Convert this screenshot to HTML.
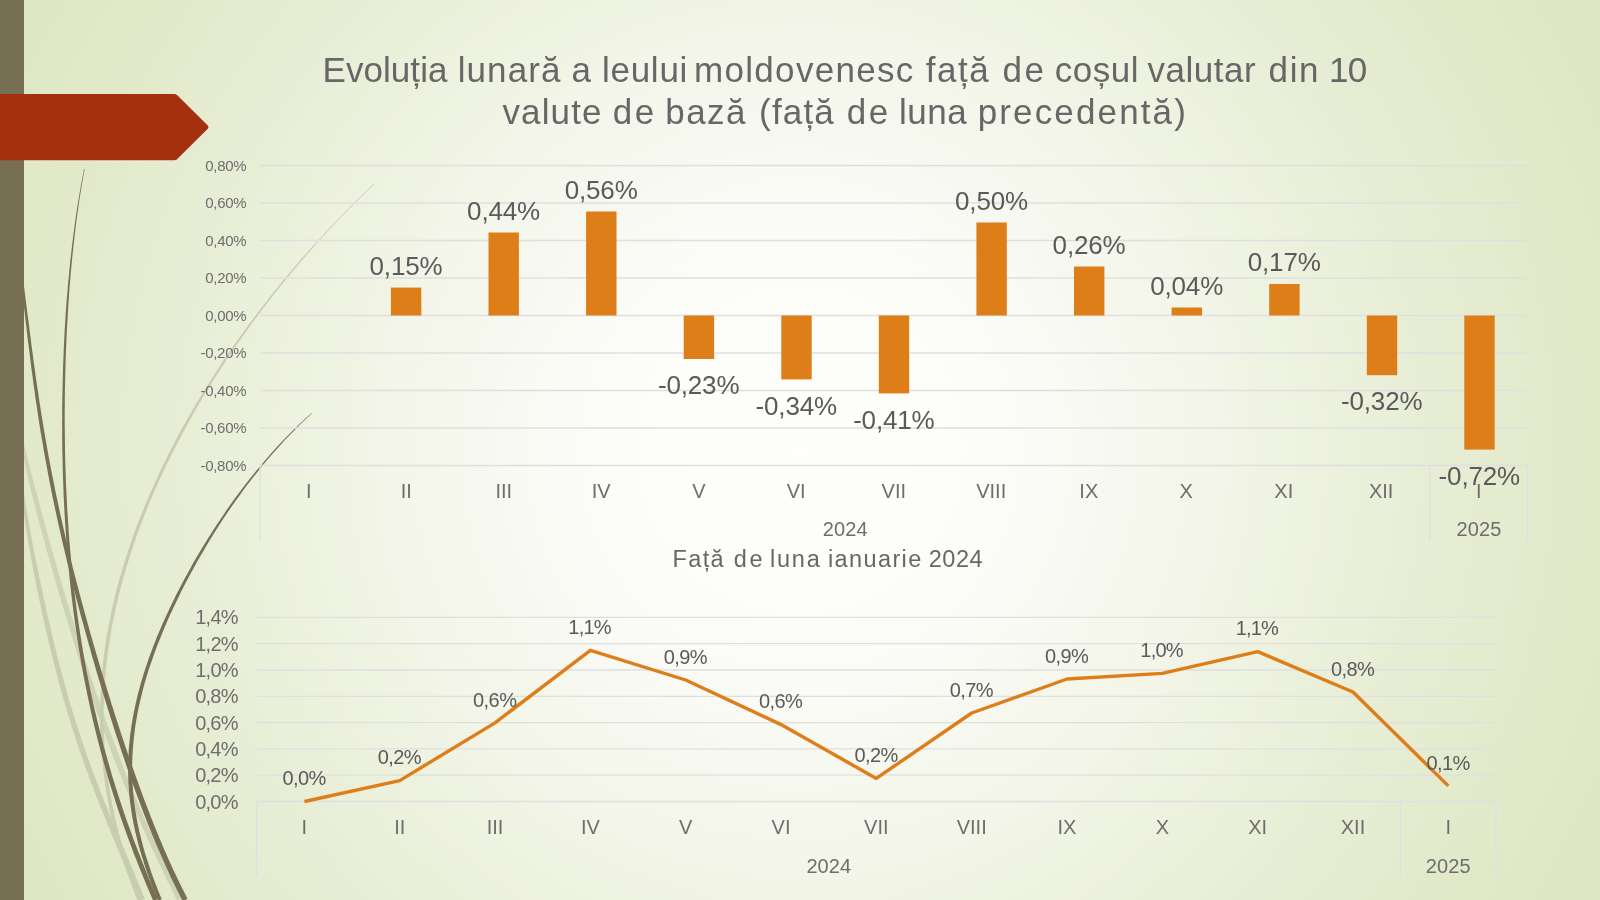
<!DOCTYPE html>
<html lang="ro"><head><meta charset="utf-8"><title>Evoluția lunară a leului moldovenesc</title>
<style>html,body{margin:0;padding:0;width:1600px;height:900px;overflow:hidden;background:#E4ECCE;font-family:"Liberation Sans",sans-serif;}svg{display:block}g.t{will-change:opacity}</style>
</head><body>
<svg width="1600" height="900" viewBox="0 0 1600 900">
<defs>
<radialGradient id="bg" gradientUnits="userSpaceOnUse" cx="800" cy="450" r="918">
<stop offset="0" stop-color="#FEFEFC"/>
<stop offset="0.153" stop-color="#FDFDFA"/>
<stop offset="0.267" stop-color="#FAFBF6"/>
<stop offset="0.462" stop-color="#F2F5E7"/>
<stop offset="0.671" stop-color="#E8EED6"/>
<stop offset="0.858" stop-color="#E1E9C9"/>
<stop offset="0.975" stop-color="#DDE7C4"/>
<stop offset="1" stop-color="#DDE7C3"/>
</radialGradient>
</defs>
<rect width="1600" height="900" fill="url(#bg)"/>
<path d="M18.7 470.1 L19.1 474.1 L19.5 478.2 L19.9 482.2 L20.3 486.2 L20.7 490.3 L21.2 494.3 L21.7 498.3 L22.2 502.4 L22.8 506.4 L23.3 510.4 L23.9 514.5 L24.5 518.5 L25.1 522.5 L25.7 526.6 L26.4 530.6 L27.0 534.6 L27.7 538.7 L28.4 542.7 L29.1 546.7 L29.8 550.8 L30.5 554.8 L31.2 558.8 L31.9 562.8 L32.7 566.9 L33.5 570.9 L34.3 574.9 L35.0 579.0 L35.8 583.0 L36.6 587.0 L37.5 591.0 L38.3 595.1 L39.1 599.1 L40.0 603.1 L40.8 607.1 L41.7 611.2 L42.6 615.2 L43.5 619.2 L44.4 623.3 L45.3 627.3 L46.2 631.3 L47.1 635.3 L48.1 639.4 L49.0 643.4 L50.0 647.4 L51.0 651.4 L52.0 655.5 L53.0 659.5 L54.0 663.5 L55.0 667.6 L56.1 671.6 L57.1 675.6 L58.2 679.6 L59.3 683.7 L60.4 687.7 L61.5 691.7 L62.6 695.8 L63.7 699.8 L64.9 703.8 L66.1 707.8 L67.3 711.9 L68.5 715.9 L69.7 719.9 L71.0 724.0 L72.2 728.0 L73.5 732.0 L74.8 736.1 L76.1 740.1 L77.5 744.1 L78.8 748.2 L80.2 752.2 L81.6 756.2 L83.0 760.3 L84.4 764.3 L85.8 768.3 L87.3 772.3 L88.8 776.4 L90.3 780.4 L91.8 784.4 L93.3 788.5 L94.9 792.5 L96.4 796.5 L98.0 800.6 L99.6 804.6 L101.2 808.6 L102.8 812.6 L104.4 816.7 L106.1 820.7 L107.7 824.7 L109.4 828.8 L111.0 832.8 L112.7 836.8 L114.4 840.8 L116.0 844.9 L117.7 848.9 L119.4 852.9 L121.1 856.9 L122.8 860.9 L124.5 865.0 L126.1 869.0 L127.8 873.0 L129.5 877.0 L131.1 881.0 L132.8 885.0 L134.4 889.1 L136.0 893.1 L137.6 897.1 L139.1 901.1 L144.7 898.9 L143.1 894.9 L141.5 890.9 L139.9 886.8 L138.3 882.8 L136.6 878.8 L134.9 874.8 L133.3 870.7 L131.6 866.7 L129.9 862.7 L128.2 858.7 L126.5 854.7 L124.8 850.6 L123.1 846.6 L121.4 842.6 L119.7 838.6 L118.0 834.6 L116.3 830.6 L114.6 826.6 L113.0 822.6 L111.3 818.5 L109.7 814.5 L108.0 810.5 L106.4 806.5 L104.8 802.5 L103.2 798.5 L101.6 794.5 L100.0 790.5 L98.5 786.5 L96.9 782.5 L95.4 778.5 L93.9 774.5 L92.4 770.5 L91.0 766.5 L89.5 762.4 L88.1 758.4 L86.7 754.4 L85.3 750.4 L83.9 746.4 L82.5 742.4 L81.2 738.4 L79.9 734.4 L78.6 730.4 L77.3 726.4 L76.0 722.4 L74.8 718.4 L73.5 714.4 L72.3 710.4 L71.1 706.4 L69.9 702.4 L68.7 698.3 L67.6 694.3 L66.4 690.3 L65.3 686.3 L64.2 682.3 L63.1 678.3 L62.0 674.3 L61.0 670.3 L59.9 666.3 L58.9 662.3 L57.9 658.3 L56.8 654.3 L55.8 650.2 L54.9 646.2 L53.9 642.2 L52.9 638.2 L52.0 634.2 L51.0 630.2 L50.1 626.2 L49.2 622.2 L48.2 618.2 L47.3 614.1 L46.4 610.1 L45.6 606.1 L44.7 602.1 L43.8 598.1 L42.9 594.1 L42.1 590.1 L41.2 586.1 L40.4 582.1 L39.5 578.1 L38.7 574.0 L37.9 570.0 L37.1 566.0 L36.3 562.0 L35.5 558.0 L34.7 554.0 L33.9 550.0 L33.1 546.0 L32.3 542.0 L31.6 538.0 L30.8 534.0 L30.1 530.0 L29.4 526.0 L28.7 522.0 L28.0 517.9 L27.3 513.9 L26.6 509.9 L26.0 505.9 L25.4 501.9 L24.8 497.9 L24.2 493.9 L23.6 489.9 L23.1 485.9 L22.6 481.9 L22.1 477.9 L21.7 473.9 L21.2 469.9Z" fill="#C9CDAF"/>
<path d="M18.7 434.3 L19.5 438.3 L20.3 442.4 L21.2 446.4 L22.0 450.4 L22.8 454.5 L23.7 458.5 L24.6 462.6 L25.5 466.6 L26.4 470.6 L27.3 474.7 L28.2 478.7 L29.2 482.7 L30.1 486.8 L31.1 490.8 L32.0 494.8 L33.0 498.9 L34.1 502.9 L35.1 506.9 L36.1 511.0 L37.2 515.0 L38.3 519.0 L39.3 523.0 L40.4 527.0 L41.5 531.1 L42.6 535.1 L43.7 539.1 L44.8 543.1 L45.9 547.2 L47.0 551.2 L48.1 555.2 L49.2 559.2 L50.3 563.3 L51.5 567.3 L52.6 571.3 L53.8 575.3 L54.9 579.4 L56.1 583.4 L57.2 587.4 L58.4 591.4 L59.6 595.5 L60.8 599.5 L62.0 603.5 L63.2 607.5 L64.4 611.5 L65.6 615.6 L66.8 619.6 L68.0 623.6 L69.2 627.6 L70.4 631.7 L71.7 635.7 L72.9 639.7 L74.2 643.7 L75.4 647.8 L76.7 651.8 L78.0 655.8 L79.3 659.8 L80.6 663.9 L81.9 667.9 L83.2 671.9 L84.5 675.9 L85.8 680.0 L87.2 684.0 L88.5 688.0 L89.8 692.0 L91.2 696.1 L92.6 700.1 L94.0 704.1 L95.4 708.1 L96.8 712.2 L98.2 716.2 L99.6 720.2 L101.1 724.2 L102.5 728.2 L104.0 732.3 L105.5 736.3 L107.0 740.3 L108.5 744.3 L110.0 748.4 L111.5 752.4 L113.1 756.4 L114.6 760.4 L116.2 764.5 L117.8 768.5 L119.4 772.5 L121.0 776.5 L122.6 780.5 L124.2 784.6 L125.9 788.6 L127.5 792.6 L129.2 796.6 L130.9 800.7 L132.6 804.7 L134.3 808.7 L136.1 812.7 L137.8 816.7 L139.6 820.8 L141.3 824.8 L143.1 828.8 L144.9 832.8 L146.7 836.8 L148.6 840.9 L150.4 844.9 L152.2 848.9 L154.1 852.9 L156.0 857.0 L157.8 861.0 L159.7 865.0 L161.7 869.0 L163.6 873.0 L165.5 877.1 L167.4 881.1 L169.4 885.1 L171.4 889.1 L173.3 893.2 L175.3 897.2 L177.3 901.2 L182.2 898.8 L180.2 894.8 L178.2 890.8 L176.2 886.8 L174.3 882.7 L172.3 878.7 L170.4 874.7 L168.4 870.7 L166.5 866.7 L164.6 862.7 L162.7 858.7 L160.9 854.7 L159.0 850.7 L157.1 846.6 L155.3 842.6 L153.5 838.6 L151.7 834.6 L149.9 830.6 L148.1 826.6 L146.4 822.6 L144.6 818.6 L142.9 814.5 L141.1 810.5 L139.4 806.5 L137.7 802.5 L136.1 798.5 L134.4 794.5 L132.7 790.5 L131.1 786.4 L129.5 782.4 L127.9 778.4 L126.3 774.4 L124.7 770.4 L123.1 766.4 L121.5 762.4 L120.0 758.4 L118.4 754.3 L116.9 750.3 L115.4 746.3 L113.9 742.3 L112.4 738.3 L110.9 734.3 L109.4 730.3 L108.0 726.3 L106.5 722.3 L105.1 718.2 L103.7 714.2 L102.3 710.2 L100.8 706.2 L99.5 702.2 L98.1 698.2 L96.7 694.2 L95.3 690.2 L93.9 686.2 L92.6 682.2 L91.2 678.1 L89.9 674.1 L88.6 670.1 L87.3 666.1 L85.9 662.1 L84.6 658.1 L83.3 654.1 L82.1 650.1 L80.8 646.1 L79.5 642.1 L78.2 638.1 L77.0 634.0 L75.7 630.0 L74.5 626.0 L73.2 622.0 L72.0 618.0 L70.8 614.0 L69.6 610.0 L68.3 606.0 L67.1 602.0 L65.9 597.9 L64.7 593.9 L63.5 589.9 L62.4 585.9 L61.2 581.9 L60.0 577.9 L58.8 573.9 L57.7 569.9 L56.5 565.9 L55.4 561.8 L54.2 557.8 L53.1 553.8 L51.9 549.8 L50.8 545.8 L49.7 541.8 L48.5 537.8 L47.4 533.8 L46.3 529.8 L45.2 525.7 L44.1 521.7 L43.0 517.7 L42.0 513.7 L40.9 509.7 L39.8 505.7 L38.8 501.7 L37.7 497.7 L36.7 493.7 L35.6 489.7 L34.5 485.7 L33.5 481.7 L32.4 477.7 L31.4 473.7 L30.3 469.7 L29.3 465.7 L28.3 461.7 L27.3 457.7 L26.4 453.7 L25.4 449.7 L24.4 445.7 L23.5 441.7 L22.6 437.7 L21.7 433.7Z" fill="#CED2B6"/>
<path d="M373.7 183.8 L369.5 187.8 L365.4 191.8 L361.3 195.8 L357.2 199.8 L353.2 203.8 L349.2 207.7 L345.3 211.7 L341.4 215.7 L337.5 219.7 L333.7 223.7 L329.9 227.7 L326.1 231.7 L322.4 235.7 L318.8 239.7 L315.1 243.7 L311.5 247.6 L308.0 251.6 L304.4 255.6 L300.9 259.6 L297.5 263.6 L294.1 267.6 L290.7 271.6 L287.3 275.6 L284.0 279.6 L280.7 283.5 L277.5 287.5 L274.2 291.5 L271.0 295.5 L267.9 299.5 L264.8 303.5 L261.7 307.5 L258.6 311.5 L255.6 315.5 L252.6 319.4 L249.6 323.4 L246.6 327.4 L243.7 331.4 L240.9 335.4 L238.0 339.4 L235.2 343.4 L232.4 347.4 L229.6 351.4 L226.9 355.4 L224.2 359.4 L221.5 363.4 L218.9 367.4 L216.3 371.4 L213.7 375.4 L211.2 379.4 L208.6 383.4 L206.1 387.4 L203.7 391.4 L201.2 395.4 L198.8 399.4 L196.4 403.4 L194.1 407.4 L191.7 411.4 L189.4 415.3 L187.2 419.3 L184.9 423.3 L182.7 427.3 L180.5 431.3 L178.3 435.3 L176.2 439.3 L174.1 443.3 L172.0 447.3 L170.0 451.3 L167.9 455.3 L165.9 459.4 L164.0 463.4 L162.0 467.4 L160.1 471.4 L158.2 475.4 L156.4 479.4 L154.6 483.4 L152.8 487.4 L151.0 491.4 L149.2 495.4 L147.5 499.4 L145.8 503.4 L144.2 507.4 L142.6 511.4 L141.0 515.4 L139.4 519.4 L137.8 523.4 L136.3 527.4 L134.8 531.4 L133.4 535.4 L132.0 539.5 L130.6 543.5 L129.2 547.5 L127.9 551.5 L126.6 555.5 L125.3 559.5 L124.0 563.5 L122.8 567.5 L121.6 571.5 L120.5 575.5 L119.3 579.5 L118.2 583.6 L117.2 587.6 L116.1 591.6 L115.1 595.6 L114.2 599.6 L113.2 603.6 L112.3 607.6 L111.4 611.6 L110.6 615.6 L109.8 619.7 L109.0 623.7 L108.2 627.7 L107.5 631.7 L106.8 635.7 L106.1 639.7 L105.5 643.7 L104.9 647.7 L104.4 651.8 L103.9 655.8 L103.4 659.8 L102.9 663.8 L102.5 667.8 L102.1 671.8 L101.7 675.8 L101.4 679.9 L101.1 683.9 L100.9 687.9 L100.6 691.9 L100.5 695.9 L100.3 699.9 L100.2 704.0 L100.1 708.0 L100.0 712.0 L100.0 716.0 L100.0 720.0 L100.1 724.0 L100.2 728.0 L100.3 732.1 L100.5 736.1 L100.7 740.1 L100.9 744.1 L101.1 748.1 L101.4 752.1 L101.8 756.2 L102.1 760.2 L102.6 764.2 L103.0 768.2 L103.5 772.2 L104.0 776.2 L104.5 780.3 L105.1 784.3 L105.7 788.3 L106.4 792.3 L107.1 796.3 L107.8 800.3 L108.6 804.3 L109.4 808.4 L110.2 812.4 L111.1 816.4 L112.0 820.4 L112.9 824.4 L113.9 828.4 L114.9 832.4 L116.0 836.5 L117.1 840.5 L118.2 844.5 L119.4 848.5 L120.6 852.5 L121.8 856.5 L123.1 860.5 L124.4 864.6 L125.7 868.6 L127.1 872.6 L128.5 876.6 L129.9 880.6 L131.4 884.6 L132.9 888.6 L134.5 892.7 L136.1 896.7 L137.7 900.7 L141.0 899.3 L139.4 895.3 L137.8 891.3 L136.3 887.4 L134.8 883.4 L133.3 879.4 L131.9 875.4 L130.5 871.4 L129.1 867.4 L127.8 863.4 L126.5 859.5 L125.2 855.5 L124.0 851.5 L122.8 847.5 L121.7 843.5 L120.5 839.5 L119.5 835.5 L118.4 831.6 L117.4 827.6 L116.4 823.6 L115.5 819.6 L114.6 815.6 L113.7 811.6 L112.9 807.6 L112.1 803.7 L111.4 799.7 L110.6 795.7 L109.9 791.7 L109.3 787.7 L108.7 783.7 L108.1 779.7 L107.6 775.8 L107.0 771.8 L106.6 767.8 L106.1 763.8 L105.7 759.8 L105.4 755.8 L105.0 751.9 L104.7 747.9 L104.5 743.9 L104.3 739.9 L104.1 735.9 L103.9 731.9 L103.8 728.0 L103.7 724.0 L103.6 720.0 L103.6 716.0 L103.6 712.0 L103.7 708.0 L103.8 704.0 L103.9 700.1 L104.1 696.1 L104.2 692.1 L104.5 688.1 L104.7 684.1 L105.0 680.1 L105.3 676.2 L105.7 672.2 L106.1 668.2 L106.5 664.2 L106.9 660.2 L107.4 656.2 L107.9 652.2 L108.5 648.3 L109.1 644.3 L109.7 640.3 L110.3 636.3 L111.0 632.3 L111.7 628.3 L112.5 624.3 L113.2 620.3 L114.0 616.4 L114.9 612.4 L115.7 608.4 L116.6 604.4 L117.6 600.4 L118.5 596.4 L119.5 592.4 L120.5 588.4 L121.6 584.4 L122.7 580.5 L123.8 576.5 L124.9 572.5 L126.1 568.5 L127.3 564.5 L128.5 560.5 L129.8 556.5 L131.1 552.5 L132.4 548.5 L133.7 544.5 L135.1 540.5 L136.5 536.6 L137.9 532.6 L139.4 528.6 L140.9 524.6 L142.4 520.6 L144.0 516.6 L145.5 512.6 L147.1 508.6 L148.8 504.6 L150.4 500.6 L152.1 496.6 L153.8 492.6 L155.6 488.6 L157.4 484.6 L159.2 480.6 L161.0 476.6 L162.8 472.6 L164.7 468.6 L166.6 464.6 L168.6 460.6 L170.5 456.7 L172.5 452.7 L174.6 448.7 L176.6 444.7 L178.7 440.7 L180.8 436.7 L182.9 432.7 L185.1 428.7 L187.3 424.7 L189.5 420.7 L191.7 416.7 L194.0 412.6 L196.3 408.6 L198.6 404.6 L201.0 400.6 L203.4 396.6 L205.8 392.6 L208.2 388.6 L210.7 384.6 L213.2 380.6 L215.7 376.6 L218.3 372.6 L220.8 368.6 L223.5 364.6 L226.1 360.6 L228.8 356.6 L231.5 352.6 L234.2 348.6 L236.9 344.6 L239.7 340.6 L242.5 336.6 L245.4 332.6 L248.2 328.6 L251.1 324.6 L254.1 320.6 L257.0 316.5 L260.0 312.5 L263.0 308.5 L266.1 304.5 L269.2 300.5 L272.3 296.5 L275.4 292.5 L278.6 288.5 L281.8 284.5 L285.1 280.4 L288.4 276.4 L291.7 272.4 L295.0 268.4 L298.4 264.4 L301.9 260.4 L305.3 256.4 L308.8 252.4 L312.3 248.4 L315.9 244.3 L319.5 240.3 L323.1 236.3 L326.8 232.3 L330.5 228.3 L334.3 224.3 L338.1 220.3 L341.9 216.3 L345.8 212.3 L349.7 208.3 L353.7 204.2 L357.7 200.2 L361.7 196.2 L365.8 192.2 L369.9 188.2 L374.1 184.2Z" fill="#C9CDAF"/>
<path d="M312.1 412.7 L307.6 416.6 L303.3 420.6 L299.0 424.6 L294.9 428.6 L290.8 432.6 L286.9 436.6 L283.0 440.6 L279.2 444.6 L275.5 448.6 L271.9 452.6 L268.3 456.7 L264.8 460.7 L261.4 464.7 L258.0 468.7 L254.7 472.7 L251.5 476.7 L248.3 480.7 L245.2 484.7 L242.1 488.8 L239.1 492.8 L236.1 496.8 L233.2 500.8 L230.3 504.8 L227.5 508.8 L224.7 512.9 L222.0 516.9 L219.3 520.9 L216.6 524.9 L214.0 528.9 L211.4 533.0 L208.9 537.0 L206.4 541.0 L203.9 545.0 L201.5 549.0 L199.1 553.1 L196.7 557.1 L194.4 561.1 L192.1 565.1 L189.9 569.2 L187.6 573.2 L185.4 577.2 L183.3 581.2 L181.2 585.3 L179.1 589.3 L177.0 593.3 L175.0 597.3 L173.0 601.4 L171.0 605.4 L169.1 609.4 L167.3 613.5 L165.4 617.5 L163.6 621.5 L161.8 625.6 L160.1 629.6 L158.4 633.6 L156.7 637.6 L155.1 641.7 L153.5 645.7 L152.0 649.8 L150.5 653.8 L149.0 657.8 L147.6 661.9 L146.2 665.9 L144.9 669.9 L143.6 674.0 L142.4 678.0 L141.2 682.1 L140.1 686.1 L139.0 690.2 L137.9 694.2 L136.9 698.2 L136.0 702.3 L135.1 706.3 L134.2 710.4 L133.4 714.4 L132.7 718.5 L132.0 722.5 L131.4 726.6 L130.8 730.6 L130.2 734.7 L129.8 738.7 L129.4 742.8 L129.0 746.8 L128.7 750.9 L128.5 754.9 L128.3 759.0 L128.2 763.1 L128.1 767.1 L128.1 771.2 L128.2 775.2 L128.3 779.3 L128.5 783.3 L128.8 787.4 L129.1 791.4 L129.4 795.5 L129.8 799.6 L130.3 803.6 L130.9 807.7 L131.5 811.7 L132.1 815.8 L132.8 819.8 L133.6 823.9 L134.5 827.9 L135.3 832.0 L136.3 836.0 L137.3 840.1 L138.3 844.1 L139.4 848.2 L140.6 852.2 L141.8 856.3 L143.1 860.3 L144.4 864.4 L145.7 868.4 L147.1 872.5 L148.6 876.5 L150.1 880.6 L151.6 884.6 L153.1 888.6 L154.7 892.7 L156.3 896.7 L158.0 900.8 L161.7 899.2 L160.1 895.2 L158.4 891.2 L156.9 887.2 L155.3 883.2 L153.8 879.2 L152.3 875.2 L150.9 871.2 L149.5 867.1 L148.2 863.1 L146.9 859.1 L145.6 855.1 L144.4 851.1 L143.3 847.1 L142.2 843.1 L141.2 839.1 L140.2 835.1 L139.2 831.1 L138.4 827.1 L137.5 823.1 L136.8 819.1 L136.1 815.1 L135.4 811.1 L134.8 807.1 L134.3 803.1 L133.8 799.1 L133.4 795.1 L133.0 791.1 L132.8 787.1 L132.5 783.1 L132.3 779.1 L132.2 775.1 L132.1 771.1 L132.1 767.1 L132.2 763.1 L132.3 759.1 L132.5 755.1 L132.7 751.1 L133.0 747.2 L133.3 743.2 L133.7 739.2 L134.2 735.2 L134.7 731.2 L135.2 727.1 L135.8 723.1 L136.5 719.1 L137.2 715.1 L138.0 711.1 L138.8 707.1 L139.7 703.1 L140.6 699.1 L141.6 695.1 L142.6 691.1 L143.6 687.1 L144.7 683.1 L145.9 679.1 L147.1 675.1 L148.3 671.0 L149.6 667.0 L151.0 663.0 L152.4 659.0 L153.8 655.0 L155.2 651.0 L156.7 646.9 L158.3 642.9 L159.9 638.9 L161.5 634.9 L163.1 630.9 L164.8 626.9 L166.6 622.8 L168.3 618.8 L170.1 614.8 L172.0 610.8 L173.9 606.7 L175.8 602.7 L177.7 598.7 L179.7 594.7 L181.7 590.6 L183.8 586.6 L185.8 582.6 L188.0 578.6 L190.1 574.5 L192.3 570.5 L194.5 566.5 L196.7 562.4 L199.0 558.4 L201.3 554.4 L203.7 550.4 L206.1 546.3 L208.5 542.3 L211.0 538.3 L213.4 534.2 L216.0 530.2 L218.5 526.2 L221.2 522.1 L223.8 518.1 L226.5 514.1 L229.2 510.0 L232.0 506.0 L234.8 502.0 L237.7 497.9 L240.6 493.9 L243.6 489.8 L246.6 485.8 L249.7 481.8 L252.8 477.7 L256.0 473.7 L259.2 469.7 L262.5 465.6 L265.9 461.6 L269.3 457.5 L272.8 453.5 L276.4 449.4 L280.0 445.4 L283.8 441.3 L287.6 437.3 L291.5 433.2 L295.5 429.2 L299.5 425.1 L303.7 421.1 L308.0 417.0 L312.3 412.9Z" fill="#766F54"/>
<path d="M84.1 168.9 L83.3 173.0 L82.5 177.0 L81.8 181.0 L81.0 185.0 L80.3 189.0 L79.6 193.0 L79.0 197.0 L78.3 201.1 L77.6 205.1 L77.0 209.1 L76.4 213.1 L75.8 217.1 L75.2 221.1 L74.7 225.2 L74.1 229.2 L73.6 233.2 L73.1 237.2 L72.6 241.2 L72.1 245.2 L71.6 249.2 L71.2 253.3 L70.7 257.3 L70.3 261.3 L69.9 265.3 L69.4 269.3 L69.1 273.4 L68.7 277.4 L68.3 281.4 L67.9 285.4 L67.6 289.4 L67.3 293.4 L66.9 297.5 L66.6 301.5 L66.3 305.5 L66.0 309.5 L65.7 313.5 L65.5 317.5 L65.2 321.6 L65.0 325.6 L64.7 329.6 L64.5 333.6 L64.3 337.6 L64.1 341.7 L63.9 345.7 L63.7 349.7 L63.6 353.7 L63.4 357.7 L63.3 361.8 L63.1 365.8 L63.0 369.8 L62.9 373.8 L62.8 377.8 L62.7 381.8 L62.6 385.9 L62.5 389.9 L62.4 393.9 L62.3 397.9 L62.3 401.9 L62.2 406.0 L62.2 410.0 L62.2 414.0 L62.2 418.0 L62.1 422.0 L62.1 426.1 L62.2 430.1 L62.2 434.1 L62.2 438.1 L62.2 442.1 L62.3 446.2 L62.3 450.2 L62.4 454.2 L62.5 458.2 L62.6 462.2 L62.7 466.3 L62.8 470.3 L62.9 474.3 L63.0 478.3 L63.2 482.3 L63.3 486.4 L63.5 490.4 L63.6 494.4 L63.8 498.4 L64.0 502.4 L64.2 506.5 L64.4 510.5 L64.6 514.5 L64.9 518.5 L65.1 522.5 L65.4 526.6 L65.6 530.6 L65.9 534.6 L66.2 538.6 L66.5 542.7 L66.8 546.7 L67.1 550.7 L67.4 554.7 L67.8 558.7 L68.1 562.8 L68.5 566.8 L68.9 570.8 L69.3 574.8 L69.7 578.9 L70.1 582.9 L70.5 586.9 L71.0 590.9 L71.4 594.9 L71.9 599.0 L72.4 603.0 L72.9 607.0 L73.4 611.0 L73.9 615.1 L74.5 619.1 L75.0 623.1 L75.6 627.1 L76.2 631.2 L76.8 635.2 L77.4 639.2 L78.0 643.2 L78.6 647.3 L79.3 651.3 L80.0 655.3 L80.6 659.3 L81.3 663.4 L82.1 667.4 L82.8 671.4 L83.5 675.4 L84.3 679.5 L85.1 683.5 L85.9 687.5 L86.7 691.5 L87.5 695.6 L88.4 699.6 L89.2 703.6 L90.1 707.6 L91.0 711.7 L91.9 715.7 L92.8 719.7 L93.8 723.8 L94.7 727.8 L95.7 731.8 L96.7 735.8 L97.7 739.9 L98.8 743.9 L99.8 747.9 L100.9 752.0 L102.0 756.0 L103.1 760.0 L104.2 764.0 L105.3 768.1 L106.5 772.1 L107.6 776.1 L108.8 780.2 L110.0 784.2 L111.3 788.2 L112.5 792.2 L113.8 796.3 L115.1 800.3 L116.4 804.3 L117.7 808.4 L119.1 812.4 L120.4 816.4 L121.8 820.4 L123.2 824.5 L124.6 828.5 L126.1 832.5 L127.5 836.6 L129.0 840.6 L130.5 844.6 L132.0 848.6 L133.5 852.7 L135.1 856.7 L136.7 860.7 L138.2 864.7 L139.9 868.8 L141.5 872.8 L143.1 876.8 L144.8 880.8 L146.5 884.9 L148.2 888.9 L149.9 892.9 L151.6 896.9 L153.4 901.0 L157.8 899.0 L156.0 895.0 L154.3 891.0 L152.6 887.0 L150.9 883.0 L149.2 879.0 L147.6 875.0 L145.9 871.0 L144.3 867.0 L142.7 863.0 L141.1 859.0 L139.6 854.9 L138.0 850.9 L136.5 846.9 L134.9 842.9 L133.4 838.9 L132.0 834.9 L130.5 830.9 L129.1 826.9 L127.6 822.9 L126.2 818.9 L124.8 814.9 L123.5 810.9 L122.1 806.9 L120.8 802.9 L119.5 798.9 L118.2 794.9 L116.9 790.9 L115.6 786.9 L114.4 782.9 L113.1 778.9 L111.9 774.9 L110.7 770.8 L109.6 766.8 L108.4 762.8 L107.3 758.8 L106.1 754.8 L105.0 750.8 L103.9 746.8 L102.9 742.8 L101.8 738.8 L100.8 734.8 L99.8 730.8 L98.8 726.8 L97.8 722.8 L96.8 718.8 L95.9 714.8 L94.9 710.8 L94.0 706.8 L93.1 702.8 L92.3 698.8 L91.4 694.8 L90.5 690.7 L89.7 686.7 L88.9 682.7 L88.1 678.7 L87.3 674.7 L86.5 670.7 L85.8 666.7 L85.1 662.7 L84.3 658.7 L83.6 654.7 L82.9 650.7 L82.3 646.7 L81.6 642.7 L81.0 638.6 L80.3 634.6 L79.7 630.6 L79.1 626.6 L78.5 622.6 L77.9 618.6 L77.4 614.6 L76.8 610.6 L76.3 606.6 L75.8 602.6 L75.3 598.6 L74.8 594.5 L74.3 590.5 L73.8 586.5 L73.4 582.5 L72.9 578.5 L72.5 574.5 L72.1 570.5 L71.7 566.5 L71.3 562.5 L70.9 558.5 L70.6 554.4 L70.2 550.4 L69.9 546.4 L69.5 542.4 L69.2 538.4 L68.9 534.4 L68.6 530.4 L68.4 526.4 L68.1 522.4 L67.8 518.3 L67.6 514.3 L67.3 510.3 L67.1 506.3 L66.9 502.3 L66.7 498.3 L66.5 494.3 L66.3 490.3 L66.1 486.2 L66.0 482.2 L65.8 478.2 L65.7 474.2 L65.6 470.2 L65.4 466.2 L65.3 462.2 L65.2 458.2 L65.1 454.1 L65.0 450.1 L65.0 446.1 L64.9 442.1 L64.9 438.1 L64.8 434.1 L64.8 430.1 L64.7 426.1 L64.7 422.0 L64.7 418.0 L64.7 414.0 L64.7 410.0 L64.8 406.0 L64.8 402.0 L64.8 398.0 L64.9 393.9 L64.9 389.9 L65.0 385.9 L65.1 381.9 L65.2 377.9 L65.3 373.9 L65.4 369.9 L65.5 365.8 L65.6 361.8 L65.7 357.8 L65.9 353.8 L66.0 349.8 L66.2 345.8 L66.4 341.8 L66.5 337.7 L66.7 333.7 L66.9 329.7 L67.1 325.7 L67.4 321.7 L67.6 317.7 L67.8 313.7 L68.1 309.6 L68.3 305.6 L68.6 301.6 L68.9 297.6 L69.1 293.6 L69.4 289.6 L69.7 285.6 L70.1 281.5 L70.4 277.5 L70.7 273.5 L71.1 269.5 L71.5 265.5 L71.9 261.5 L72.2 257.4 L72.7 253.4 L73.1 249.4 L73.5 245.4 L74.0 241.4 L74.4 237.4 L74.9 233.3 L75.4 229.3 L75.9 225.3 L76.4 221.3 L76.9 217.3 L77.5 213.3 L78.1 209.2 L78.6 205.2 L79.2 201.2 L79.8 197.2 L80.5 193.2 L81.1 189.2 L81.8 185.1 L82.5 181.1 L83.2 177.1 L83.9 173.1 L84.7 169.1Z" fill="#766F54"/>
<path d="M19.7 272.2 L20.2 276.2 L20.7 280.2 L21.2 284.2 L21.7 288.2 L22.2 292.2 L22.6 296.2 L23.1 300.2 L23.6 304.2 L24.1 308.2 L24.6 312.2 L25.0 316.2 L25.5 320.2 L26.0 324.2 L26.5 328.2 L26.9 332.2 L27.4 336.2 L27.9 340.2 L28.4 344.2 L28.9 348.2 L29.4 352.2 L29.9 356.2 L30.4 360.2 L30.9 364.2 L31.4 368.2 L31.9 372.2 L32.5 376.2 L33.0 380.2 L33.5 384.2 L34.1 388.2 L34.7 392.2 L35.2 396.2 L35.8 400.2 L36.4 404.3 L37.0 408.3 L37.6 412.3 L38.2 416.3 L38.8 420.3 L39.4 424.3 L40.1 428.3 L40.7 432.3 L41.4 436.3 L42.1 440.3 L42.8 444.3 L43.4 448.3 L44.1 452.3 L44.9 456.3 L45.6 460.3 L46.3 464.3 L47.1 468.3 L47.8 472.4 L48.6 476.4 L49.3 480.4 L50.1 484.4 L50.9 488.4 L51.7 492.4 L52.5 496.4 L53.4 500.4 L54.2 504.4 L55.0 508.4 L55.9 512.4 L56.7 516.4 L57.6 520.4 L58.5 524.4 L59.4 528.4 L60.3 532.4 L61.2 536.5 L62.1 540.5 L63.0 544.5 L64.0 548.5 L64.9 552.5 L65.9 556.5 L66.8 560.5 L67.8 564.5 L68.8 568.5 L69.8 572.5 L70.8 576.5 L71.8 580.5 L72.8 584.5 L73.8 588.5 L74.8 592.5 L75.8 596.6 L76.9 600.6 L77.9 604.6 L79.0 608.6 L80.0 612.6 L81.1 616.6 L82.2 620.6 L83.3 624.6 L84.4 628.6 L85.5 632.6 L86.6 636.6 L87.7 640.6 L88.8 644.6 L90.0 648.6 L91.1 652.7 L92.2 656.7 L93.4 660.7 L94.6 664.7 L95.7 668.7 L96.9 672.7 L98.1 676.7 L99.3 680.7 L100.5 684.7 L101.7 688.7 L102.9 692.7 L104.1 696.7 L105.3 700.7 L106.6 704.7 L107.8 708.8 L109.1 712.8 L110.3 716.8 L111.6 720.8 L112.9 724.8 L114.1 728.8 L115.4 732.8 L116.7 736.8 L118.1 740.8 L119.4 744.8 L120.7 748.8 L122.0 752.8 L123.4 756.8 L124.8 760.8 L126.1 764.9 L127.5 768.9 L128.9 772.9 L130.3 776.9 L131.7 780.9 L133.2 784.9 L134.6 788.9 L136.1 792.9 L137.6 796.9 L139.1 800.9 L140.6 804.9 L142.1 808.9 L143.6 813.0 L145.2 817.0 L146.7 821.0 L148.3 825.0 L149.9 829.0 L151.5 833.0 L153.2 837.0 L154.8 841.0 L156.5 845.1 L158.2 849.1 L160.0 853.1 L161.7 857.1 L163.5 861.1 L165.3 865.1 L167.1 869.1 L169.0 873.1 L170.8 877.2 L172.8 881.2 L174.7 885.2 L176.7 889.2 L178.7 893.2 L180.7 897.2 L182.7 901.2 L187.5 898.8 L185.5 894.8 L183.5 890.8 L181.5 886.8 L179.5 882.8 L177.6 878.8 L175.7 874.8 L173.9 870.9 L172.0 866.9 L170.2 862.9 L168.4 858.9 L166.7 854.9 L164.9 850.9 L163.2 846.9 L161.5 842.9 L159.8 839.0 L158.2 835.0 L156.5 831.0 L154.9 827.0 L153.3 823.0 L151.7 819.0 L150.1 815.0 L148.6 811.0 L147.1 807.1 L145.5 803.1 L144.0 799.1 L142.5 795.1 L141.1 791.1 L139.6 787.1 L138.2 783.1 L136.7 779.1 L135.3 775.1 L133.9 771.1 L132.5 767.1 L131.1 763.1 L129.7 759.2 L128.3 755.2 L127.0 751.2 L125.6 747.2 L124.3 743.2 L123.0 739.2 L121.6 735.2 L120.3 731.2 L119.0 727.2 L117.7 723.2 L116.4 719.2 L115.1 715.2 L113.9 711.2 L112.6 707.2 L111.3 703.3 L110.1 699.3 L108.9 695.3 L107.6 691.3 L106.4 687.3 L105.2 683.3 L103.9 679.3 L102.7 675.3 L101.5 671.3 L100.3 667.3 L99.1 663.3 L98.0 659.3 L96.8 655.3 L95.6 651.3 L94.5 647.4 L93.3 643.4 L92.2 639.4 L91.0 635.4 L89.9 631.4 L88.8 627.4 L87.7 623.4 L86.6 619.4 L85.5 615.4 L84.4 611.4 L83.3 607.4 L82.2 603.4 L81.1 599.4 L80.1 595.4 L79.0 591.5 L78.0 587.5 L76.9 583.5 L75.9 579.5 L74.8 575.5 L73.8 571.5 L72.8 567.5 L71.8 563.5 L70.8 559.5 L69.9 555.5 L68.9 551.5 L67.9 547.5 L67.0 543.5 L66.0 539.5 L65.1 535.5 L64.2 531.6 L63.3 527.6 L62.4 523.6 L61.5 519.6 L60.6 515.6 L59.7 511.6 L58.9 507.6 L58.0 503.6 L57.2 499.6 L56.3 495.6 L55.5 491.6 L54.7 487.6 L53.9 483.6 L53.1 479.6 L52.3 475.6 L51.5 471.6 L50.8 467.7 L50.0 463.7 L49.3 459.7 L48.5 455.7 L47.8 451.7 L47.1 447.7 L46.4 443.7 L45.7 439.7 L45.0 435.7 L44.3 431.7 L43.6 427.7 L43.0 423.7 L42.3 419.7 L41.7 415.7 L41.0 411.7 L40.4 407.7 L39.8 403.7 L39.2 399.8 L38.6 395.8 L38.0 391.8 L37.4 387.8 L36.8 383.8 L36.2 379.8 L35.6 375.8 L35.1 371.8 L34.5 367.8 L34.0 363.8 L33.4 359.8 L32.9 355.8 L32.4 351.8 L31.8 347.8 L31.3 343.8 L30.8 339.8 L30.3 335.8 L29.8 331.8 L29.3 327.8 L28.8 323.8 L28.3 319.8 L27.7 315.8 L27.2 311.8 L26.7 307.8 L26.2 303.8 L25.7 299.8 L25.2 295.8 L24.7 291.8 L24.2 287.8 L23.7 283.8 L23.1 279.8 L22.6 275.8 L22.1 271.8Z" fill="#766F54"/>
<rect x="0" y="0" width="24" height="900" fill="#766F54"/>
<path d="M0 94 L174.5 94 Q176 94 177 95 L207.8 125.6 Q209.3 127.2 207.8 128.8 L177 159.3 Q176 160.3 174.5 160.3 L0 160.3 Z" fill="#A5300F"/>
<g class="t" font-family="Liberation Sans, sans-serif" fill="#676767" font-size="35.0">
<text x="322.61" y="82.0" letter-spacing="0.041">Evoluția</text>
<text x="457.64" y="82.0" letter-spacing="1.113">lunară</text>
<text x="571.40" y="82.0" letter-spacing="0.000">a</text>
<text x="601.94" y="82.0" letter-spacing="0.740">leului</text>
<text x="694.02" y="82.0" letter-spacing="1.311">moldovenesc</text>
<text x="925.86" y="82.0" letter-spacing="1.496">față</text>
<text x="1002.43" y="82.0" letter-spacing="2.600">de</text>
<text x="1054.81" y="82.0" letter-spacing="0.531">coșul</text>
<text x="1147.41" y="82.0" letter-spacing="0.519">valutar</text>
<text x="1268.51" y="82.0" letter-spacing="1.669">din</text>
<text x="1328.97" y="82.0" letter-spacing="-0.800">10</text>
<text x="502.41" y="124.2" letter-spacing="1.143">valute</text>
<text x="612.68" y="124.2" letter-spacing="2.600">de</text>
<text x="665.23" y="124.2" letter-spacing="1.442">bază</text>
<text x="759.11" y="124.2" letter-spacing="1.150">(față</text>
<text x="846.78" y="124.2" letter-spacing="2.600">de</text>
<text x="898.94" y="124.2" letter-spacing="0.542">luna</text>
<text x="977.73" y="124.2" letter-spacing="2.136">precedentă)</text>
</g>
<g stroke="#DFDFE0" stroke-width="1.3" fill="none"><line x1="260.0" y1="165.5" x2="1527.5" y2="165.5"/><line x1="260.0" y1="203.0" x2="1527.5" y2="203.0"/><line x1="260.0" y1="240.5" x2="1527.5" y2="240.5"/><line x1="260.0" y1="278.0" x2="1527.5" y2="278.0"/><line x1="260.0" y1="315.5" x2="1527.5" y2="315.5"/><line x1="260.0" y1="353.0" x2="1527.5" y2="353.0"/><line x1="260.0" y1="390.5" x2="1527.5" y2="390.5"/><line x1="260.0" y1="428.0" x2="1527.5" y2="428.0"/><line x1="260.0" y1="465.5" x2="1527.5" y2="465.5"/><line x1="260.0" y1="465.5" x2="260.0" y2="541"/><line x1="1430.0" y1="465.5" x2="1430.0" y2="541"/><line x1="1527.5" y1="465.5" x2="1527.5" y2="541"/></g>
<g class="t" font-family="Liberation Sans, sans-serif" fill="#6E6E6E" font-size="15.0">
<text x="205.24" y="170.8" letter-spacing="-0.294">0,80%</text>
<text x="205.24" y="208.3" letter-spacing="-0.294">0,60%</text>
<text x="205.24" y="245.8" letter-spacing="-0.294">0,40%</text>
<text x="205.24" y="283.3" letter-spacing="-0.294">0,20%</text>
<text x="205.24" y="320.8" letter-spacing="-0.294">0,00%</text>
<text x="200.42" y="358.3" letter-spacing="-0.270">-0,20%</text>
<text x="200.42" y="395.8" letter-spacing="-0.270">-0,40%</text>
<text x="200.42" y="433.3" letter-spacing="-0.270">-0,60%</text>
<text x="200.42" y="470.8" letter-spacing="-0.270">-0,80%</text>
</g>
<g fill="#DE7E18"><rect x="390.9" y="287.6" width="30.4" height="27.9"/><rect x="488.5" y="232.5" width="30.4" height="83.0"/><rect x="586.1" y="211.5" width="30.4" height="104.0"/><rect x="683.7" y="315.5" width="30.4" height="43.5"/><rect x="781.3" y="315.5" width="30.4" height="63.9"/><rect x="878.8" y="315.5" width="30.4" height="77.9"/><rect x="976.4" y="222.5" width="30.4" height="93.0"/><rect x="1074.0" y="266.5" width="30.4" height="49.0"/><rect x="1171.6" y="307.5" width="30.4" height="8.0"/><rect x="1269.2" y="284.0" width="30.4" height="31.5"/><rect x="1366.8" y="315.5" width="30.4" height="59.7"/><rect x="1464.3" y="315.5" width="30.4" height="134.1"/></g>
<g class="t" font-family="Liberation Sans, sans-serif" fill="#5A5A5A" font-size="26.0"><text x="369.52" y="274.6" letter-spacing="-0.148">0,15%</text><text x="467.11" y="219.5" letter-spacing="-0.147">0,44%</text><text x="564.68" y="198.5" letter-spacing="-0.148">0,56%</text><text x="657.97" y="394.2" letter-spacing="-0.168">-0,23%</text><text x="755.55" y="414.6" letter-spacing="-0.168">-0,34%</text><text x="853.13" y="428.6" letter-spacing="-0.168">-0,41%</text><text x="955.00" y="209.5" letter-spacing="-0.148">0,50%</text><text x="1052.59" y="253.5" letter-spacing="-0.147">0,26%</text><text x="1150.16" y="294.5" letter-spacing="-0.147">0,04%</text><text x="1247.74" y="271.0" letter-spacing="-0.147">0,17%</text><text x="1341.03" y="410.4" letter-spacing="-0.168">-0,32%</text><text x="1438.61" y="484.8" letter-spacing="-0.168">-0,72%</text></g>
<g class="t" font-family="Liberation Sans, sans-serif" fill="#6E6E6E" font-size="20" text-anchor="middle">
<text x="308.8" y="498">I</text>
<text x="406.2" y="498">II</text>
<text x="503.8" y="498">III</text>
<text x="601.2" y="498">IV</text>
<text x="698.8" y="498">V</text>
<text x="796.2" y="498">VI</text>
<text x="893.8" y="498">VII</text>
<text x="991.2" y="498">VIII</text>
<text x="1088.8" y="498">IX</text>
<text x="1186.2" y="498">X</text>
<text x="1283.8" y="498">XI</text>
<text x="1381.2" y="498">XII</text>
<text x="1478.8" y="498">I</text>
</g>
<g class="t" font-family="Liberation Sans, sans-serif" fill="#6E6E6E" font-size="20">
<text x="822.80" y="536.0" letter-spacing="0.100">2024</text>
<text x="1456.40" y="536.0" letter-spacing="0.183">2025</text>
</g>
<g class="t" font-family="Liberation Sans, sans-serif" fill="#676767" font-size="23.5">
<text x="672.46" y="567.2" letter-spacing="1.393">Față</text>
<text x="733.81" y="567.2" letter-spacing="2.600">de</text>
<text x="770.01" y="567.2" letter-spacing="1.771">luna</text>
<text x="828.01" y="567.2" letter-spacing="1.383">ianuarie</text>
<text x="928.73" y="567.2" letter-spacing="0.531">2024</text>
</g>
<g stroke="#DFDFE0" stroke-width="1.3" fill="none"><line x1="256.7" y1="801.5" x2="1496.0" y2="801.5"/><line x1="256.7" y1="775.2" x2="1496.0" y2="775.2"/><line x1="256.7" y1="748.9" x2="1496.0" y2="748.9"/><line x1="256.7" y1="722.6" x2="1496.0" y2="722.6"/><line x1="256.7" y1="696.3" x2="1496.0" y2="696.3"/><line x1="256.7" y1="670.0" x2="1496.0" y2="670.0"/><line x1="256.7" y1="643.7" x2="1496.0" y2="643.7"/><line x1="256.7" y1="617.4" x2="1496.0" y2="617.4"/><line x1="256.7" y1="801.5" x2="256.7" y2="876.5"/><line x1="1400.4" y1="801.5" x2="1400.4" y2="876.5"/><line x1="1496.0" y1="801.5" x2="1496.0" y2="876.5"/></g>
<g class="t" font-family="Liberation Sans, sans-serif" fill="#6E6E6E" font-size="20">
<text x="195.25" y="808.5" letter-spacing="-0.783">0,0%</text>
<text x="195.25" y="782.2" letter-spacing="-0.783">0,2%</text>
<text x="195.25" y="755.9" letter-spacing="-0.783">0,4%</text>
<text x="195.25" y="729.6" letter-spacing="-0.783">0,6%</text>
<text x="195.25" y="703.3" letter-spacing="-0.783">0,8%</text>
<text x="195.30" y="677.0" letter-spacing="-0.800">1,0%</text>
<text x="195.30" y="650.7" letter-spacing="-0.800">1,2%</text>
<text x="195.30" y="624.4" letter-spacing="-0.800">1,4%</text>
</g>
<polyline points="304.4,801.5 399.7,780.6 495.0,722.9 590.4,650.3 685.7,680.0 781.0,724.6 876.3,778.4 971.7,713.0 1067.0,679.0 1162.3,673.4 1257.7,651.6 1353.0,692.0 1448.3,785.9" fill="none" stroke="#DE7E18" stroke-width="3.4" stroke-linejoin="round" stroke-linecap="butt"/>
<g class="t" font-family="Liberation Sans, sans-serif" fill="#5A5A5A" font-size="20">
<text x="282.42" y="785.3" letter-spacing="-0.583">0,0%</text>
<text x="377.75" y="764.4" letter-spacing="-0.583">0,2%</text>
<text x="473.08" y="706.7" letter-spacing="-0.583">0,6%</text>
<text x="568.36" y="634.1" letter-spacing="-0.800">1,1%</text>
<text x="663.74" y="663.8" letter-spacing="-0.583">0,9%</text>
<text x="759.07" y="708.4" letter-spacing="-0.583">0,6%</text>
<text x="854.40" y="762.2" letter-spacing="-0.583">0,2%</text>
<text x="949.73" y="696.8" letter-spacing="-0.583">0,7%</text>
<text x="1045.06" y="662.8" letter-spacing="-0.583">0,9%</text>
<text x="1140.34" y="657.2" letter-spacing="-0.800">1,0%</text>
<text x="1235.67" y="635.4" letter-spacing="-0.800">1,1%</text>
<text x="1331.05" y="675.8" letter-spacing="-0.583">0,8%</text>
<text x="1426.38" y="769.7" letter-spacing="-0.583">0,1%</text>
</g>
<g class="t" font-family="Liberation Sans, sans-serif" fill="#6E6E6E" font-size="20" text-anchor="middle">
<text x="304.4" y="833.7">I</text>
<text x="399.7" y="833.7">II</text>
<text x="495.0" y="833.7">III</text>
<text x="590.4" y="833.7">IV</text>
<text x="685.7" y="833.7">V</text>
<text x="781.0" y="833.7">VI</text>
<text x="876.3" y="833.7">VII</text>
<text x="971.7" y="833.7">VIII</text>
<text x="1067.0" y="833.7">IX</text>
<text x="1162.3" y="833.7">X</text>
<text x="1257.7" y="833.7">XI</text>
<text x="1353.0" y="833.7">XII</text>
<text x="1448.3" y="833.7">I</text>
</g>
<g class="t" font-family="Liberation Sans, sans-serif" fill="#6E6E6E" font-size="20">
<text x="806.40" y="872.5" letter-spacing="0.100">2024</text>
<text x="1425.70" y="872.5" letter-spacing="0.183">2025</text>
</g>
</svg>
</body></html>
